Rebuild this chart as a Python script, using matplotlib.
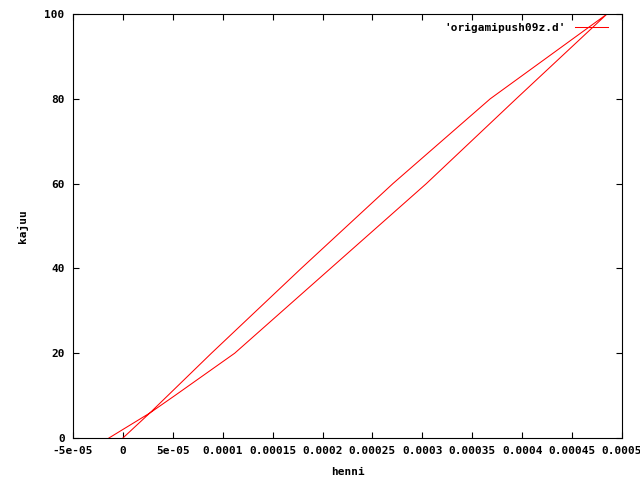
import matplotlib
matplotlib.use("Agg")
import matplotlib.pyplot as plt

# loading path (upper branch), then unloading path (lower branch)
load_x = [0.0, 2.7e-05, 8.87e-05, 1.786e-04, 2.705e-04, 3.68e-04, 4.85e-04]
load_y = [0.0, 5.9, 20.0, 40.0, 60.0, 80.0, 100.0]
unload_x = [4.85e-04, 3.94e-04, 3.04e-04, 1.12e-04, 5.2e-05, 2.7e-05, -1.4e-05]
unload_y = [100.0, 80.0, 60.0, 20.0, 10.0, 5.9, 0.0]

henni = load_x + unload_x[1:]
kajuu = load_y + unload_y[1:]

xticks = [-5e-05, 0, 5e-05, 0.0001, 0.00015, 0.0002, 0.00025, 0.0003,
          0.00035, 0.0004, 0.00045, 0.0005]
xtick_labels = ["-5e-05", "0", "5e-05", "0.0001", "0.00015", "0.0002",
                "0.00025", "0.0003", "0.00035", "0.0004", "0.00045", "0.0005"]
yticks = [0, 20, 40, 60, 80, 100]

plt.rcParams['font.family'] = ['DejaVu Sans Mono']
plt.rcParams['font.weight'] = 'bold'
plt.rcParams['font.size'] = 8

fig = plt.figure(figsize=(6.4, 4.8), dpi=100)
ax = fig.add_axes([73 / 640, 42 / 480, 549 / 640, 424 / 480])

ax.plot(henni, kajuu, color='#ff0000', linewidth=0.75,
        label="'origamipush09z.d'")

ax.set_xlim(-5e-05, 0.0005)
ax.set_ylim(0, 100)
ax.set_xticks(xticks)
ax.set_xticklabels(xtick_labels)
ax.set_yticks(yticks)
ax.tick_params(direction='in', length=4, width=0.8, top=True, right=True,
               pad=6, labelsize=8)
for s in ax.spines.values():
    s.set_linewidth(0.8)

ax.set_xlabel("henni", fontsize=8, fontweight='bold', labelpad=8)
ax.set_ylabel("kajuu", fontsize=8, fontweight='bold', labelpad=12)

ax.legend(loc='upper right', frameon=False, markerfirst=False,
          handlelength=3.0, handletextpad=0.8, borderpad=0,
          bbox_to_anchor=(1 - 8 / 549, 1 - 3 / 424),
          prop={'weight': 'bold', 'size': 8})

fig.savefig("out.png", dpi=100)
